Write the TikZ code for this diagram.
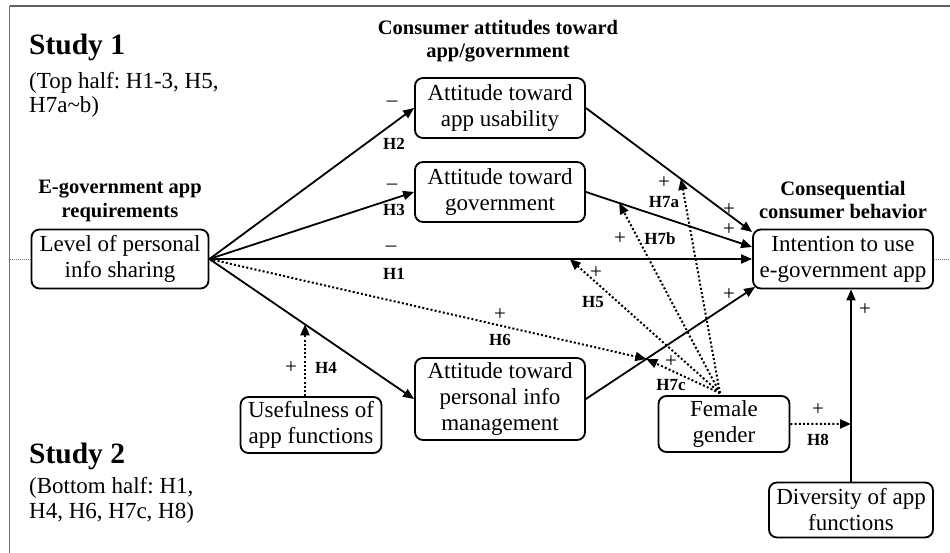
\documentclass[tikz,border=0pt]{standalone}
\usepackage{fontspec}
\setmainfont{Liberation Serif}
\usetikzlibrary{arrows.meta,calc}
\frenchspacing
\begin{document}
\begin{tikzpicture}[x=1pt,y=-1pt,
  box/.style={draw, line width=1.8pt, rounded corners=8pt, align=center, inner sep=0pt, font=\fontsize{23}{26}\selectfont},
  hdr/.style={align=center, inner sep=0pt, font=\fontsize{20.5}{23.5}\selectfont\bfseries},
  lab/.style={inner sep=0pt, font=\fontsize{17}{17}\selectfont\bfseries},
  sgn/.style={inner sep=0pt, font=\fontsize{21}{21}\selectfont},
  plain/.style={inner sep=0pt, anchor=base west, font=\fontsize{23}{23}\selectfont},
  studyt/.style={inner sep=0pt, anchor=base west, font=\fontsize{29.5}{30}\selectfont\bfseries},
  link/.style={line width=1.8pt, -{Triangle[length=11pt,width=9pt]}},
  dlink/.style={line width=2pt, dash pattern=on 2pt off 2.2pt, -{Triangle[length=11pt,width=9pt]}},
]
\useasboundingbox (0,0) rectangle (950,553);
\fill[white] (0,0) rectangle (950,553);

% frame
\coordinate (ftl) at (9.5,6);
\coordinate (ftr) at (950,6);
\coordinate (fbl) at (9.5,553);
\draw[black!62, line width=2pt] (ftl) -- (ftr);
\draw[black!55, line width=1.3pt] (ftl) -- (fbl);

% boxes
\node[box, minimum width=177, minimum height=59] (lev) at (120,259) {Level of personal\\info sharing};
\node[box, minimum width=170, minimum height=60] (usa) at (500,108) {Attitude toward\\app usability};
\node[box, minimum width=170, minimum height=60] (gov) at (500,192) {Attitude toward\\government};
\node[box, minimum width=180, minimum height=59] (int) at (843,259) {Intention to use\\e-government app};
\node[box, minimum width=170, minimum height=82] (pim) at (500,399) {Attitude toward\\personal info\\management};
\node[box, minimum width=141, minimum height=56] (use) at (311,425) {Usefulness of\\app functions};
\node[box, minimum width=131, minimum height=56] (fem) at (724,424) {Female\\gender};
\node[box, minimum width=164, minimum height=55] (div) at (851,510) {Diversity of app\\functions};

% gray dotted guide
\draw[black!55, line width=0.8pt, dash pattern=on 1pt off 1pt] (ftl |- lev.west) -- (lev.west);
\draw[black!55, line width=0.8pt, dash pattern=on 1pt off 1pt] (int.east) -- (int.east -| ftr);

% headers
\node[hdr] (hc) at (498,41) {Consumer attitudes toward\\app/government};
\node[hdr] (he) at (120,201) {E-government app\\requirements};
\node[hdr] (hq) at (843,200) {Consequential\\consumer behavior};

% study texts
\node[studyt] (s1) at (29,55) {Study 1};
\node[plain] (s1a) at (29,89) {(Top half: H1-3, H5,};
\node[plain] (s1b) at (29,113) {H7a\textasciitilde b)};
\node[studyt] (s2) at (29,463) {Study 2};
\node[plain] (s2a) at (29,493) {(Bottom half: H1,};
\node[plain] (s2b) at (29,518) {H4, H6, H7c, H8)};

% target coordinates on the intention box
\coordinate (intA) at ($(int.west)+(0,-27)$);
\coordinate (intB) at ($(int.west)+(0,-12)$);
\coordinate (intC) at ($(int.south west)+(3,-2.5)$);
\coordinate (intD) at (div.north |- int.south);

% solid links
\draw[link] (lev.east) -- (usa.west);
\draw[link] (lev.east) -- (gov.west);
\draw[link] (lev.east) -- (int.west);
\draw[link] (lev.east) -- (pim.west);
\draw[link] (usa.east) -- (intA);
\draw[link] (gov.east) -- (intB);
\draw[link] (pim.east) -- (intC);
\draw[link] (div.north) -- (intD);

% points on links (moderation targets)
\path (usa.east) -- (intA) coordinate[pos=0.572] (m7a);
\path (gov.east) -- (intB) coordinate[pos=0.2] (m7b);
\path (lev.east) -- (int.west) coordinate[pos=0.664] (m5);
\path (pim.east) -- (intC) coordinate[pos=0.357] (m6);
\path (div.north) -- (intD) coordinate[pos=0.3] (m8);
\path (lev.east) -- (pim.west) coordinate[pos=0.467] (m4);
\coordinate (u4) at ($(use.north)+(-6,0)$);
\coordinate (fsrc) at ($(fem.north)+(-4,-2)$);

% dotted links
\draw[dlink] (lev.east) -- (m6);
\draw[dlink] (u4) -- (u4 |- m4);
\draw[dlink] (fsrc) -- (m5);
\draw[dlink] (fsrc) -- (m7a);
\draw[dlink] (fsrc) -- (m7b);
\draw[dlink] (fsrc) -- (m6);
\draw[dlink] (fem.east) -- (m8);

% signs and labels
\node[sgn] (sH2) at (392,104) {–};
\node[lab] (lH2) at (394,144) {H2};
\node[sgn] (sH3) at (392,187) {–};
\node[lab] (lH3) at (394,210) {H3};
\node[sgn] (sH1) at (391,249) {–};
\node[lab] (lH1) at (394,274) {H1};
\node[sgn] (sH7a) at (664,183) {+};
\node[lab] (lH7a) at (664,202) {H7a};
\node[sgn] (sH7b) at (620,239) {+};
\node[lab] (lH7b) at (660,239) {H7b};
\node[sgn] (sH5) at (596,273) {+};
\node[lab] (lH5) at (593,302) {H5};
\node[sgn] (sH6) at (500,315) {+};
\node[lab] (lH6) at (500,340) {H6};
\node[sgn] (sH7c) at (671,362) {+};
\node[lab] (lH7c) at (671,385) {H7c};
\node[sgn] (sH4) at (291,368) {+};
\node[lab] (lH4) at (326,368) {H4};
\node[sgn] (sH8) at (818,410) {+};
\node[lab] (lH8) at (818,440) {H8};
\node[sgn] (sDiv) at (865,310) {+};
\node[sgn] (sA) at (729,210) {+};
\node[sgn] (sB) at (729,230) {+};
\node[sgn] (sC) at (729,295) {+};
\end{tikzpicture}
\end{document}
